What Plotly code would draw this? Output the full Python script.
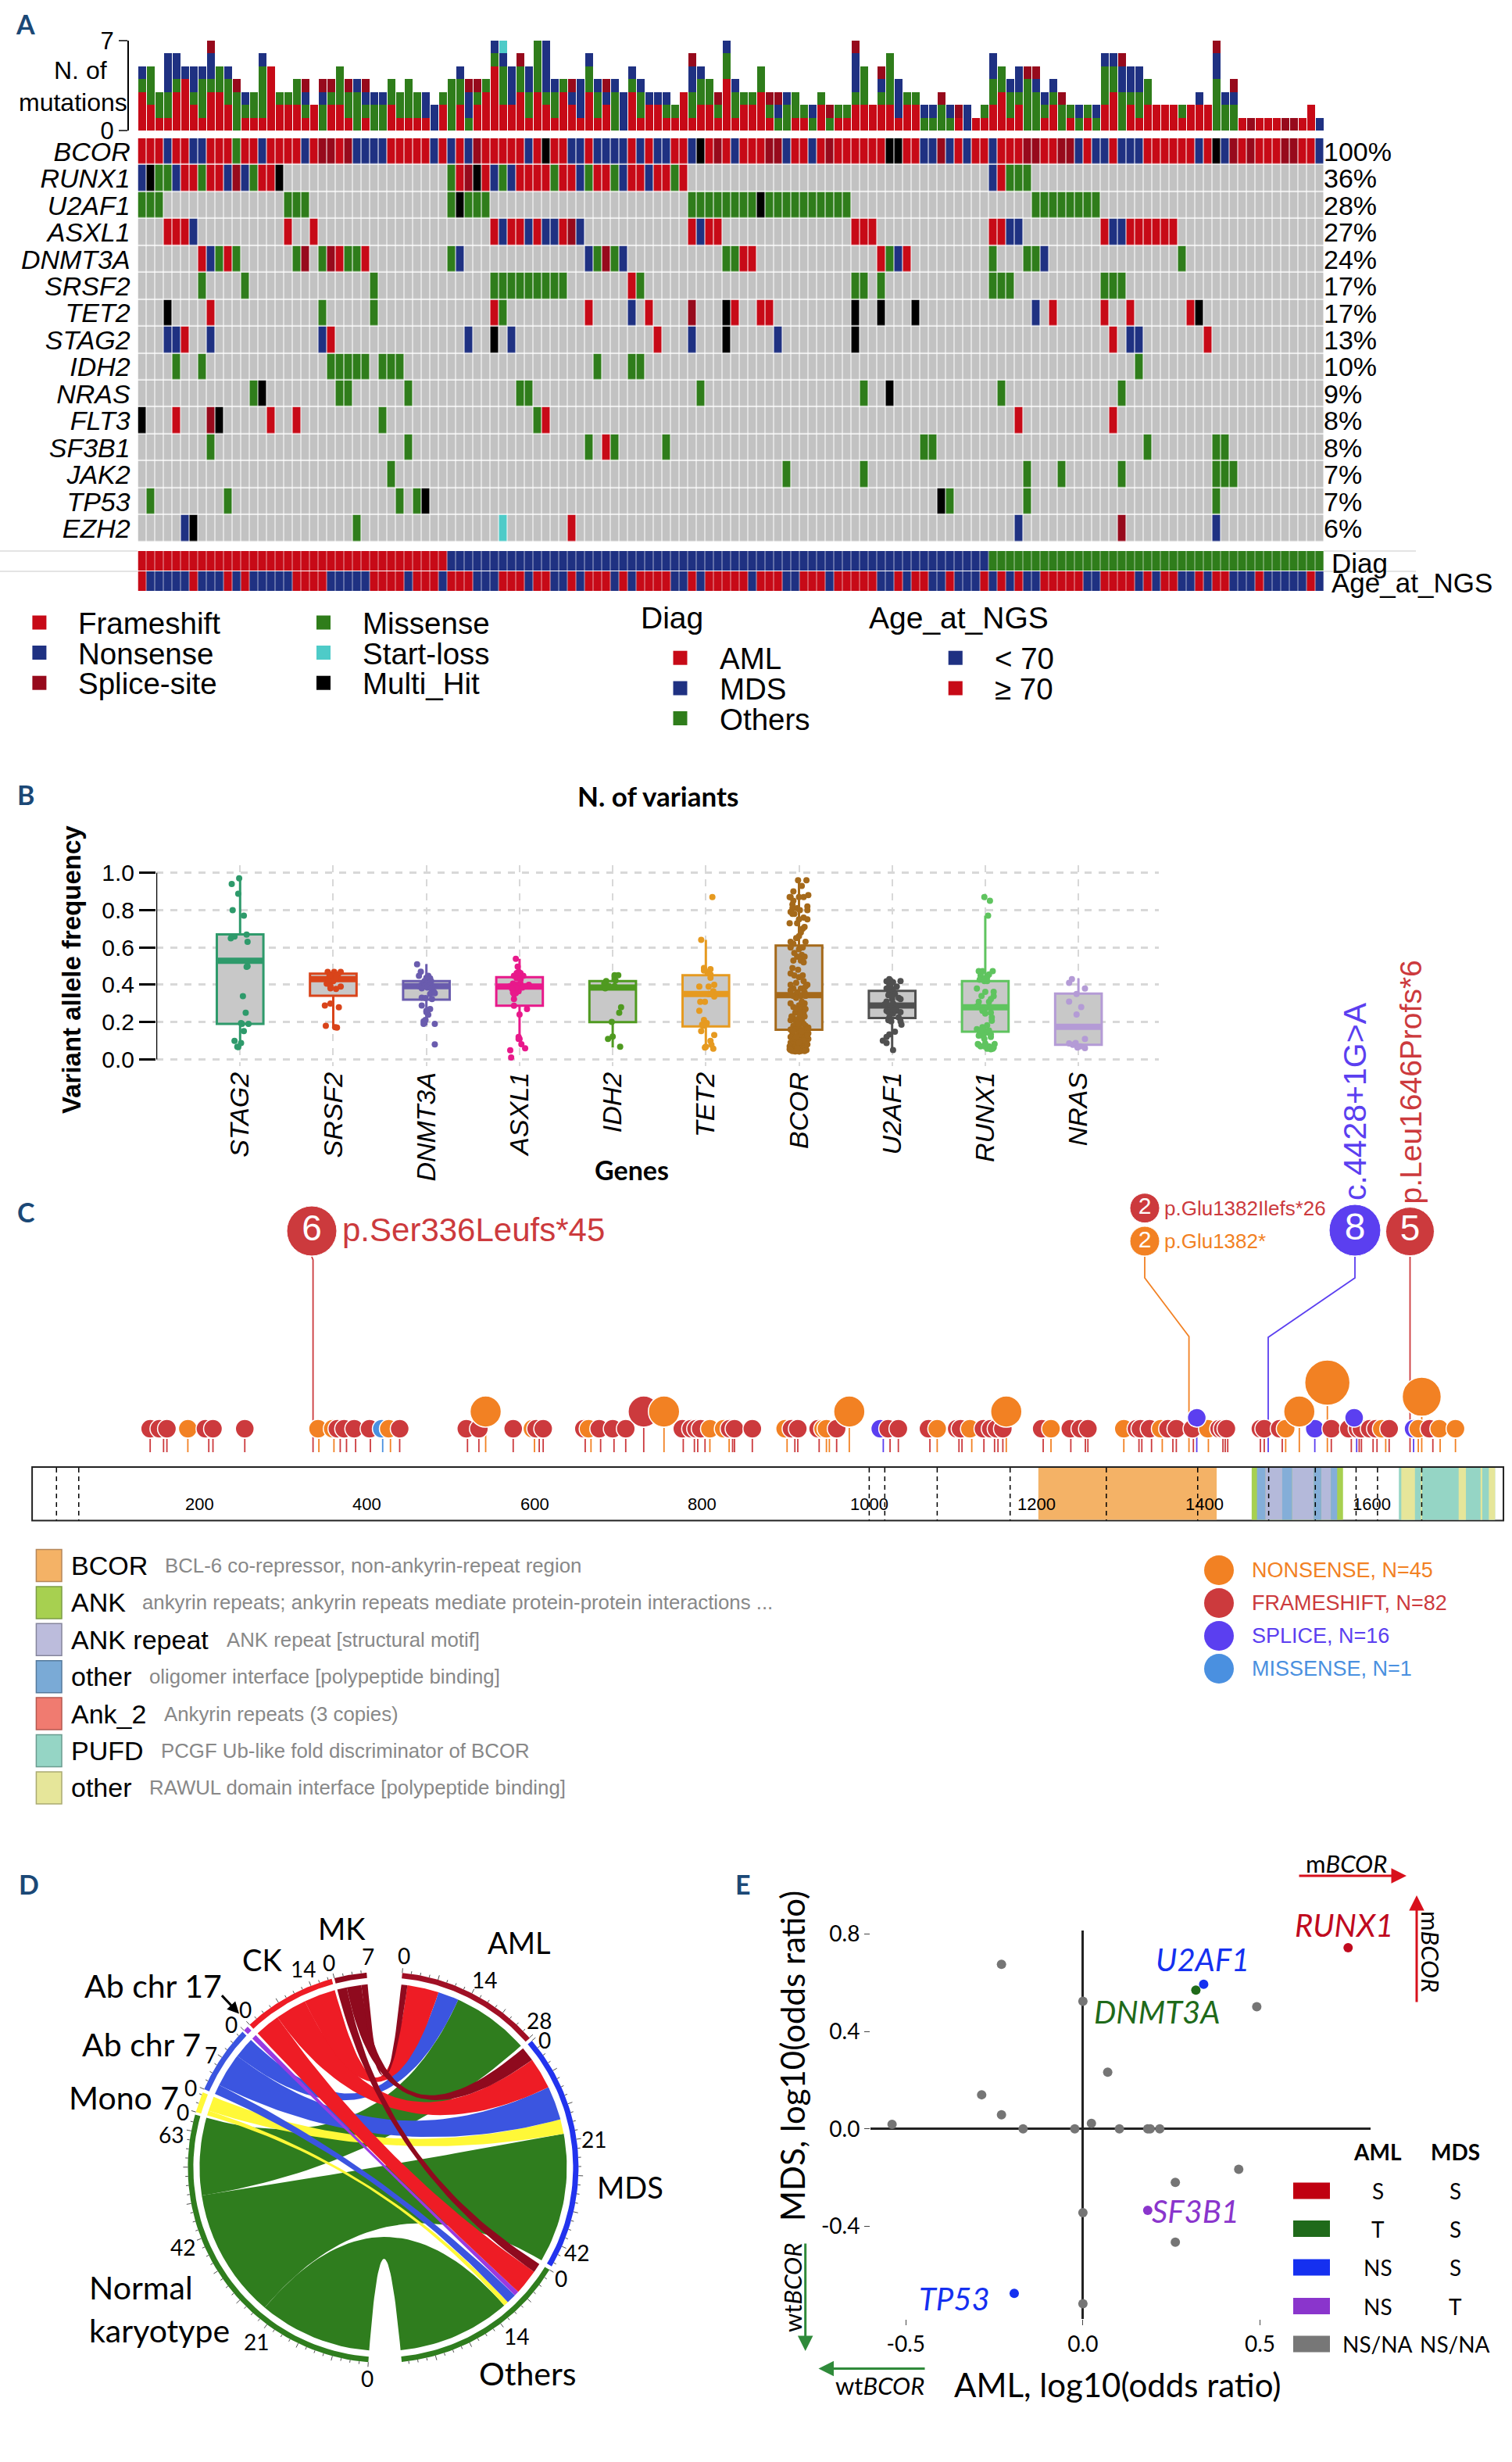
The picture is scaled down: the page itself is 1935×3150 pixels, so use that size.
import math
import plotly.graph_objects as go

W, H = 1935, 3150
ARIAL = "Liberation Sans"
LATO = "Lato"

# ---------- Panel A data ----------
N_PATIENTS = 138
ONCO_GENES = ["BCOR", "RUNX1", "U2AF1", "ASXL1", "DNMT3A", "SRSF2", "TET2", "STAG2",
              "IDH2", "NRAS", "FLT3", "SF3B1", "JAK2", "TP53", "EZH2"]
ONCO_PCT = ["100%", "36%", "28%", "27%", "24%", "17%", "17%", "13%", "10%", "9%", "8%", "8%", "7%", "7%", "6%"]

BCOR_N = [3,6,7,14,19,25,26,27,28,34,36,38,45,50,51,53,54,55,56,58,60,61,64,69,75,78,91,92,94,96,99,109,111,112,114,115,116,123,126,137]
BCOR_S = [21,22,24,39,67,73,74,80,93,103,104,107,108,127,129,133,134]
BCOR_M = [11]
BCOR_H = [47,65,87,88,125]

RUNX1 = {"N":[0,4,10,12,41,43,51,56,59,99], "H":[1,16,39], "M":[2,3,7,13,36,42,48,52,55,62,101,102,103],
         "F":[5,6,8,9,14,15,37,40,44,45,46,47,49,50,53,54,57,58,60,61,63,100], "S":[11,38]}
U2AF1 = {"M":[0,1,2,17,18,19,36,38,39,40,64,65,66,67,68,69,70,71,73,74,75,76,77,78,79,80,81,82,104,105,106,107,108,109,110,111], "H":[37,72]}
ASXL1 = {"F":[3,4,5,17,20,41,43,44,46,49,64,66,67,83,84,85,99,100,112,115,116,117,118,119,120],
         "N":[6,42,45,47,48,51,65,101,102,113,114], "S":[50]}
DNMT3A = {"F":[7,10,23,26,70,71,86,89], "N":[8,37,52,56,88,105], "M":[9,11,18,21,24,25,36,53,55,68,69,87,99,103,104,121], "S":[19,22,54]}
SRSF2 = {"M":[7,12,27,41,42,43,44,45,46,47,48,49,58,83,84,86,99,100,101,112,113,114], "F":[57]}
TET2 = {"H":[3,68,83,86,90,123], "F":[8,41,52,59,69,72,73,106,112,115,122], "M":[21,27,42], "N":[57,104], "S":[64]}
STAG2 = {"N":[3,4,8,21,38,43,64,74,115,116], "F":[5,22,60,113,124], "H":[41,68,83]}
IDH2 = {"M":[4,7,22,23,24,25,26,28,29,30,53,57,58,116]}
NRAS = {"M":[13,23,24,31,44,45,65,84,100,114], "H":[14,87]}
FLT3 = {"H":[0,9], "F":[4,15,18,47,102,113], "S":[8], "M":[28,46]}
SF3B1 = {"M":[8,31,52,55,61,91,92,117,125,126], "F":[54]}
JAK2 = {"M":[29,75,84,103,107,114,125,126,127]}
TP53 = {"M":[1,10,30,32,94,103,125], "H":[33,93]}
EZH2 = {"N":[5,102,125], "H":[6], "M":[25], "L":[42], "F":[50], "S":[114]}

MUT_F = [3,2,1,1,3,4,2,1,3,3, 2,0,1,1,1,5,2,2,2,1, 2,0,2,2,1,0,1,0,0,2, 1,1,1,1,0,2,0,2,0,2,
         3,5,2,2,3,1,3,2,1,3, 2,1,3,1,2,0,0,3,1,2, 2,1,1,3,1,2,2,1,4,1, 2,2,3,1,0,0,1,1,0,2,
         0,1,1,2,2,2,2,2,1,2, 2,0,0,0,0,1,0,1,1,2, 3,1,2,0,0,1,2,0,1,0, 1,0,2,3,0,2,1,2,2,2,
         2,1,2,2,2,0,0,0,1,0, 1,1,1,0,0,1,2,0]
MUT_M = [1,3,2,2,1,0,1,3,1,2, 2,3,1,2,4,0,1,1,2,1, 0,2,1,3,2,3,1,2,2,2, 2,3,2,0,0,1,4,2,1,1,
         1,1,3,0,2,2,4,1,2,1, 0,0,2,2,0,3,0,1,2,0, 0,1,1,0,2,2,2,1,2,2, 1,1,2,1,1,2,2,1,1,1,
         1,1,1,1,3,0,1,4,0,1, 1,1,1,2,1,0,0,0,1,2, 2,2,1,4,3,1,1,2,1,1, 1,1,3,2,3,1,2,2,0,0,
         0,1,0,0,0,4,2,2,0,0, 0,0,0,0,0,0,0,0]
MUT_N = [1,0,0,3,2,1,2,1,2,0, 1,0,1,0,1,0,0,0,0,1, 0,1,0,0,0,1,1,1,1,0, 0,0,0,2,2,0,0,1,2,0,
         0,1,1,3,0,2,0,4,1,0, 1,3,1,1,1,1,3,1,1,1, 1,1,0,0,2,1,0,0,1,1, 0,0,0,0,1,1,0,0,1,0,
         0,0,0,3,0,0,1,0,3,0, 0,1,1,0,1,0,2,0,0,2, 0,1,2,0,1,1,1,0,0,1, 0,1,1,1,2,2,2,0,0,0,
         0,0,0,1,0,2,1,1,0,0, 0,0,0,0,0,0,0,1]
MUT_S = [0,0,0,0,0,0,0,0,1,0, 0,1,0,0,0,0,0,0,0,1, 0,1,1,0,1,0,1,0,0,0, 0,0,0,0,0,0,0,0,1,1,
         0,0,0,0,1,0,0,0,0,0, 1,0,0,0,1,0,0,0,0,0, 0,0,0,0,1,0,0,1,0,0, 0,0,0,1,1,0,0,0,0,0,
         1,0,0,1,0,0,1,0,0,0, 0,0,0,1,0,1,0,0,0,0, 0,0,0,1,1,0,0,1,0,0, 0,0,0,0,1,0,0,0,0,0,
         0,0,0,0,0,1,0,1,0,1, 0,0,0,1,1,0,0,0]
MUT_L_COLS = [42]

DIAG_GROUPS = ["AML", "MDS", "Others"]
DIAG_SIZES = [36, 63, 39]
AGE_GE70_COLS = [0,6,10,12,18,19,20,21,27,28,29,30,32,33,34,36,37,38,42,43,44,46,47,50,52,53,54,56,58,59,60,61,64,
                 66,67,68,69,70,72,73,74,77,78,79,81,82,83,84,85,88,90,91,94,98,100,102,105,106,107,108,109,
                 112,113,114,115,117,119,120,123,125,126,130,136]

# ---------- Panel B data ----------
VAF_GENES = ["STAG2", "SRSF2", "DNMT3A", "ASXL1", "IDH2", "TET2", "BCOR", "U2AF1", "RUNX1", "NRAS"]
VAF_N = [21, 23, 33, 37, 14, 29, 144, 40, 53, 14]
VAF_Q1 = [.19, .341, .32, .288, .20, .177, .159, .222, .148, .078]
VAF_MED = [.529, .43, .392, .39, .385, .35, .344, .289, .279, .175]
VAF_Q3 = [.67, .459, .42, .44, .42, .451, .61, .367, .42, .353]
VAF_LO = [.066, .172, .183, .127, .064, .064, .043, .05, .064, .078]
VAF_HI = [.97, .469, .511, .539, .448, .641, .96, .434, .77, .434]

V_STAG2 = [.97,.94,.888,.80,.77,.669,.658,.649,.63,.499,.496,.339,.25,.19,.194,.19,.151,.099,.088,.068,.066]
J_STAG2 = [-.01,-.09,-.02,-.08,.04,.07,-.06,-.10,.08,.08,.07,.03,.06,.02,.01,.09,.04,-.06,.01,-.03,-.02]
V_SRSF2 = [.469,.469,.469,.455,.446,.427,.434,.406,.381,.378,.39,.448,.455,.289,.299,.279,.18,.172,.17,.42,.42,.392,.437]
J_SRSF2 = [-.06,.01,.08,-.03,.02,-.01,0,-.07,-.03,.03,.08,-.04,.05,-.09,-.03,.06,-.08,.02,.04,0,-.05,-.03,.03]
V_DNMT3A = [.51,.47,.448,.448,.437,.434,.42,.42,.406,.40,.40,.392,.392,.392,.385,.381,.381,.362,.35,.355,.331,.328,.323,.289,.27,.26,.239,.211,.204,.19,.19,.08,.253]
J_DNMT3A = [-.10,-.06,-.08,.02,0,.04,-.02,.05,.01,-.05,.04,-.02,.08,-.08,.01,-.05,.05,.08,.04,.09,-.05,-.01,.06,-.05,.04,0,.02,-.01,-.03,-.03,.09,.09,0]
V_ASXL1 = [.539,.497,.469,.448,.462,.448,.434,.446,.406,.40,.406,.40,.392,.39,.392,.392,.381,.358,.365,.355,.323,.288,.27,.24,.12,.11,.11,.081,.059,.049,.01,.385,.385,.378,.462,.427,.35]
J_ASXL1 = [-.04,-.02,-.01,-.06,.01,.04,-.03,-.01,-.07,-.03,.01,.10,-.10,-.06,0,.06,-.01,-.07,-.01,-.04,-.06,-.06,.08,0,-.01,0,-.01,.02,.06,-.10,-.09,-.04,.03,-.08,-.03,.01,-.06]
V_IDH2 = [.451,.451,.423,.42,.406,.381,.392,.392,.279,.25,.201,.122,.11,.068]
J_IDH2 = [.02,.06,.03,-.07,-.09,-.08,.02,-.04,.09,.07,-.01,0,-.05,.08]
V_TET2 = [.87,.641,.49,.483,.469,.455,.437,.40,.39,.39,.365,.35,.337,.309,.309,.26,.211,.194,.186,.151,.13,.099,.078,.068,.064,.057,.18,.35,.476]
J_TET2 = [.07,-.05,-.02,.05,.03,.05,.05,.09,-.07,.03,.08,.03,.09,-.06,-.01,-.07,-.02,.01,-.04,-.05,.09,.05,.06,0,-.01,.08,-.03,.06,-.02]
V_BCOR = [.96,.96,.93,.90,.87,.87,.87,.87,.88,.85,.83,.82,.81,.81,.80,.79,.78,.80,.78,.76,.75,.75,.73,.73,.71,.70,.68,.65,.63,.63,
          .62,.60,.60,.59,.56,.55,.55,.53,.53,.52,.49,.48,.46,.45,.45,.42,.40,.40,.38,.38,.36,.36,.34,.34,.33,.34,.30,.28,.30,.29,
          .28,.26,.27,.25,.25,.22,.22,.23,.21,.21,.20,.18,.18,.17,.17,.16,.16,.16,.16,.14,.14,.14,.14,.13,.13,.12,.12,.11,.11,.11,
          .10,.10,.09,.09,.085,.08,.08,.07,.07,.07,.07,.065,.065,.06,.06,.055,.055,.055,.055,.05,.05,.045,.045,.043,.043,.05,
          .66,.57,.44,.41,.39,.37,.31,.27,.24,.23,.19,.19,.15,.15,.13,.12,.10,.09,.08,.06,.06,.05,.05,.045]
J_BCOR = [-.01,.08,.03,-.06,-.09,-.10,0,.05,.10,-.06,-.07,.09,-.07,-.02,.09,-.09,-.05,.01,-.07,.05,.09,0,-.10,-.02,.06,.04,.02,-.03,-.09,.07,
          -.06,.04,-.09,0,.03,.06,-.02,-.06,.02,.05,-.07,-.01,-.09,-.05,.04,.05,.09,-.09,-.06,.02,-.02,.06,-.06,.02,-.03,.07,-.09,-.06,.06,0,
          .05,.02,.07,-.04,.05,-.06,0,.06,-.09,.03,-.03,-.06,.07,0,.10,-.09,.04,-.04,.09,-.07,0,.06,.10,-.06,.02,.07,-.09,-.02,.05,.10,
          -.06,.02,-.09,.07,-.02,.04,-.07,-.04,.01,-.10,.06,-.06,-.01,-.09,.03,-.04,0,-.10,.05,-.06,-.02,.02,-.07,-.04,0,.04,
          0,-.05,0,-.03,.07,-.09,.03,-.03,.01,-.08,.05,-.01,.03,-.06,.09,-.03,.05,0,.09,-.02,.07,.08,-.09,.06]
V_U2AF1 = [.43,.42,.418,.413,.40,.39,.38,.378,.365,.358,.35,.344,.33,.323,.323,.31,.30,.288,.288,.274,.26,.26,.253,.253,.246,.225,.225,.21,.204,.186,.204,.148,.134,.12,.10,.088,.05,.295,.267,.337]
J_U2AF1 = [-.03,.09,-.06,.01,-.03,.05,-.06,0,.01,-.03,.03,-.04,.07,.09,0,-.06,.01,-.03,.05,0,-.06,.05,.09,-.04,.01,-.03,.07,-.04,.09,.10,-.01,.03,-.03,-.06,-.10,-.06,.01,-.08,.03,0]
V_RUNX1 = [.87,.85,.77,.473,.473,.473,.448,.455,.44,.427,.42,.42,.38,.362,.362,.34,.339,.323,.309,.309,.283,.274,.26,.246,.25,.225,.207,.183,.172,.162,.155,.148,.144,.134,.127,.12,.127,.11,.082,.085,.082,.07,.07,.064,.057,.054,.078,.07,.057,.155,.155,.462,.434]
J_RUNX1 = [-.01,.05,.03,-.07,-.03,.08,-.05,.04,.02,-.06,-.01,.02,-.09,0,.09,-.04,.09,.06,-.07,.04,-.09,0,-.03,0,.06,.07,.07,.02,-.03,-.09,-.01,-.06,.02,.06,-.03,.06,-.07,-.01,-.08,0,.10,-.05,.04,.09,.02,.06,-.07,-.01,.08,-.05,.04,-.05,0]
V_NRAS = [.43,.41,.38,.35,.31,.28,.24,.11,.088,.078,.07,.06,.085,.064]
J_NRAS = [-.07,-.10,.07,-.02,-.10,.03,-.02,.07,-.03,-.06,.02,.07,-.10,-.01]

# ---------- Panel C data ----------
LOLLI_POS = [141,157,161,186,211,216,254,342.5,360.5,368,375.5,386.4,404,418.7,428,439,520,533.6,541.7,574.6,
             600,605.7,610.4,660.6,667.5,679,695,709,730.5,754.7,777.7,791,795,803.7,809.5,832.5,836.6,838.9,860.2,
             901.7,911,914.5,940,948.7,952.2,960.9,976,1016.6,1024.7,1034.6,1072.3,1081,1107,1110.6,1122.3,1136.8,
             1149.5,1153.6,1159.4,1163.5,1207.6,1216.9,1240.6,1258,1261,1303.9,1322,1325.4,1337,1349.8,1362.5,1366.6,
             1387,1391,1404.9,1422.3,1425,1428,1467,1471.6,1493.1,1497.2,1513.5,1532,1547,1551.7,1575.6,1582,1585,
             1587.7,1601.6,1606.3,1616.7,1620.8,1650,1655.6,1659.7,1673,1681.7,1700]
LOLLI_HEAD = [141,152,161,186,207,216,254,341.5,359,364.6,372.6,384.7,403,417.6,426,439,518.6,533.6,541.7,574.6,
              597.6,602,610.4,659,664.6,677.3,693.4,709,730.5,754.7,776.6,787,793,798.5,809.5,826,833,838.9,860.2,
              899.4,907,914.5,938.8,944.7,948.7,960.9,976,1013,1022.4,1034.6,1070.6,1081,1104.3,1108.9,1120,1136.2,
              1144.9,1151.9,1159.4,1163.5,1205.8,1216.9,1240,1252,1261,1303.9,1319,1323.7,1334.7,1348,1356.7,1366.6,
              1385.8,1391,1404.3,1417.7,1422,1426.4,1467,1471.6,1490,1497.2,1513.5,1532,1547,1551.7,1572.6,1579,1583,
              1587.7,1597.6,1605,1612,1620.8,1650,1655.6,1659.7,1669,1680.6,1700]
LOLLI_TYPE = list("FFFNFFFNNFFFFMNFFFNFNFFFNFFFFNFFFFNNFFFNFFFNNFNSFFFNFFNFFFFNFNFFFNFFFNFFFSNFFFFFFNNSNFFSFFFFNFSNNFNN")
LOLLI_COUNT = [1,1,1,1,1,1,1,1,1,1,1,1,1,1,1,1,1,1,2,1,
               1,1,1,1,1,1,1,1,2,2,1,1,1,1,1,1,1,1,1,
               1,1,1,1,1,1,1,2,1,1,1,1,1,1,1,1,1,
               1,1,1,2,1,1,1,1,1,1,1,1,1,1,1,1,
               1,1.5,1,1,1,1,1,1,1,1,2,1,4,1,1,1.5,1,
               1,1,1,1,1,1,1,3,1,1,1]
EXON_LINES = [29.1,55.7,999.8,1018.4,1081,1168.1,1283,1392.1,1476.9,1532.6,1581.3,1606.9,1659.7]
DOMAIN_BCOR = [1201.8, 1414.8]
DOMAIN_ANK = [1456.6, 1565.7]
DOMAIN_ANK_REPEAT = [[1472.8,1493.1],[1504.7,1530.8],[1539.6,1551.2]]
DOMAIN_OLIGOMER = [[1462.9,1472.8],[1493.1,1504.7],[1530.8,1539.6],[1551.2,1558.7]]
DOMAIN_PUFD = [1632.4, 1747.3]
DOMAIN_RAWUL = [[1635.3,1651.6],[1658.5,1660],[1703.8,1712.5],[1730,1732],[1739.8,1747.3]]
AA_TICKS = [200,400,600,800,1000,1200,1400,1600]

# ---------- Panel D data ----------
CHORD_SECTORS = ["AML","MDS","Others","Normal karyotype","Mono 7","Ab chr 7","Ab chr 17","CK","MK"]
LINK_SOURCE = ["Normal karyotype"]*3 + ["Mono 7"]*2 + ["Ab chr 7"]*3 + ["Ab chr 17"] + ["CK"]*3 + ["MK"]*3
LINK_TARGET = ["Others","MDS","AML","Others","MDS","Others","MDS","AML","Others","Others","MDS","AML","Others","MDS","AML"]
LINK_VALUE = [23.4,26.8,16, 1,3, 2,7,4.3, 1, 5.2,6.5,6.5, 2,3,1.3]

# ---------- Panel E data ----------
OR_GREY_X = [-.23,0,.491,.07,-.286,-.23,-.539,-.169,-.023,.024,.103,.183,.19,.217,.44,.261,0,.261,0]
OR_GREY_Y = [.676,.524,.502,.233,.14,.058,.018,0,0,.022,0,0,0,0,-.166,-.22,-.345,-.466,-.719]
OR_GENES = ["RUNX1","U2AF1","DNMT3A","SF3B1","TP53"]
OR_X = [.749,.341,.319,.183,-.194]
OR_Y = [.744,.594,.57,-.335,-.676]

# ---------- styles ----------
C_F, C_N, C_S, C_M, C_L, C_H = "#c70a17", "#1f3182", "#970a1c", "#2f7d1b", "#4ecbc8", "#000000"
C_GREY = "#c2c2c2"
PANEL = "#1b4876"

def dom_x(a, b): return [a / W, b / W]
def dom_y(t, b): return [1 - b / H, 1 - t / H]

fig = go.Figure()
ann, shp = [], []

def T(x, y, s, size, color="black", fam=ARIAL, xa="center", ya="middle", angle=0, xref="x9", yref="y9"):
    ann.append(dict(x=x, y=y, xref=xref, yref=yref, text=s, showarrow=False, xanchor=xa, yanchor=ya,
                    textangle=angle, font=dict(size=size, color=color, family=fam)))

def rect(x0, x1, y0, y1, fill, line=None, lw=0, xref="x9", yref="y9", layer="above"):
    shp.append(dict(type="rect", xref=xref, yref=yref, x0=x0, x1=x1, y0=y0, y1=y1, fillcolor=fill, layer=layer,
                    line=dict(color=line or fill, width=lw)))

def arrow(x, y, ax, ay, color, w=3, size=1.3):
    ann.append(dict(x=x, y=y, ax=ax, ay=ay, xref="x9", yref="y9", axref="x9", ayref="y9", text="", showarrow=True,
                    arrowhead=2, arrowsize=size, arrowwidth=w, arrowcolor=color))

for lab, x, y in [("A", 32, 30), ("B", 33, 1016), ("C", 33, 1550), ("D", 37, 2410), ("E", 951, 2410)]:
    T(x, y, "<b>%s</b>" % lab, 34, PANEL, LATO)

# ---------- Panel A ----------
cols = list(range(N_PATIENTS))
for vals, col in [(MUT_F, C_F), (MUT_M, C_M), (MUT_N, C_N), (MUT_S, C_S),
                  ([1 if c in MUT_L_COLS else 0 for c in cols], C_L)]:
    fig.add_trace(go.Bar(x=cols, y=vals, marker=dict(color=col, line=dict(width=0)), xaxis="x", yaxis="y",
                         hoverinfo="skip", showlegend=False))

CODE = {"F": 1, "N": 2, "S": 3, "M": 4, "L": 5, "H": 6}
SCALE = []
for i, c in enumerate([C_GREY, C_F, C_N, C_S, C_M, C_L, C_H]):
    SCALE += [[i / 7, c], [(i + 1) / 7, c]]

def row_from(d, default=0):
    r = [default] * N_PATIENTS
    for k, v in d.items():
        for c in v:
            r[c] = CODE[k]
    return r

matrix = [row_from({"N": BCOR_N, "S": BCOR_S, "M": BCOR_M, "H": BCOR_H}, default=1)]
for d in [RUNX1, U2AF1, ASXL1, DNMT3A, SRSF2, TET2, STAG2, IDH2, NRAS, FLT3, SF3B1, JAK2, TP53, EZH2]:
    matrix.append(row_from(d))
fig.add_trace(go.Heatmap(z=matrix, x=cols, y=list(range(15)), colorscale=SCALE, zmin=-.5, zmax=6.5, showscale=False,
                         xgap=1, ygap=1.5, hoverinfo="skip", xaxis="x2", yaxis="y2"))

diag_row = []
for g, n in zip(DIAG_GROUPS, DIAG_SIZES):
    diag_row += [{"AML": 1, "MDS": 2, "Others": 4}[g]] * n
age_row = [1 if c in AGE_GE70_COLS else 2 for c in cols]
fig.add_trace(go.Heatmap(z=[diag_row, age_row], x=cols, y=[0, 1], colorscale=SCALE, zmin=-.5, zmax=6.5, showscale=False,
                         xgap=.6, ygap=1, hoverinfo="skip", xaxis="x3", yaxis="y3"))

for i, p in enumerate(ONCO_PCT):
    T(137.3, i, p, 34, xa="left", xref="x2", yref="y2")

T(103, 90, "N. of", 32)
T(93, 131, "mutations", 32)
T(1702, 720, "Diag", 35, xa="left")
T(1702, 745, "Age_at_NGS", 35, xa="left")
for y in (705, 731):
    shp.append(dict(type="line", xref="x9", yref="y9", x0=0, x1=176, y0=y, y1=y, line=dict(color="#e4e4e4", width=2)))
    shp.append(dict(type="line", xref="x9", yref="y9", x0=1694, x1=1812, y0=y, y1=y, line=dict(color="#e4e4e4", width=2)))

for (sx, tx, labs) in [(41.4, 98, [("Frameshift", C_F), ("Nonsense", C_N), ("Splice-site", C_S)]),
                       (405, 462, [("Missense", C_M), ("Start-loss", C_L), ("Multi_Hit", C_H)])]:
    for (name, c), y in zip(labs, [796.5, 835, 873.7]):
        rect(sx, sx + 18, y - 9, y + 9, c)
        T(tx, y + 1, name, 38.5, xa="left")
T(818, 790, "Diag", 39, xa="left")
for (name, c), y in zip([("AML", C_F), ("MDS", C_N), ("Others", C_M)], [841.7, 880.5, 919]):
    rect(861.5, 879.5, y - 9, y + 9, c)
    T(919, y + 1, name, 38.5, xa="left")
T(1110, 790, "Age_at_NGS", 39, xa="left")
for (name, c), y in zip([("< 70", C_N), ("≥ 70", C_F)], [841.7, 880.5]):
    rect(1213.7, 1231.8, y - 9, y + 9, c)
    T(1271, y + 1, name, 38.5, xa="left")

# ---------- Panel B ----------
VAF_COL = ["#2e9a6b", "#d9441a", "#6a5cae", "#e8198b", "#4f9a20", "#e69a20", "#a5691a", "#505050", "#5fc45f", "#b49bd6"]
V_ALL = [V_STAG2, V_SRSF2, V_DNMT3A, V_ASXL1, V_IDH2, V_TET2, V_BCOR, V_U2AF1, V_RUNX1, V_NRAS]
J_ALL = [J_STAG2, J_SRSF2, J_DNMT3A, J_ASXL1, J_IDH2, J_TET2, J_BCOR, J_U2AF1, J_RUNX1, J_NRAS]
fig.add_trace(go.Scatter(x=[-.9, -.9], y=[0, 1], mode="lines", line=dict(color="black", width=2.5), xaxis="x5", yaxis="y5",
                         cliponaxis=False, hoverinfo="skip", showlegend=False))
for i, g in enumerate(VAF_GENES):
    fig.add_trace(go.Box(x=[i], q1=[VAF_Q1[i]], median=[VAF_MED[i]], q3=[VAF_Q3[i]], lowerfence=[VAF_LO[i]],
                         upperfence=[VAF_HI[i]], width=.5, whiskerwidth=0, fillcolor="#c8c8c8", orientation="v",
                         line=dict(color=VAF_COL[i], width=3), boxpoints=False, xaxis="x5", yaxis="y5",
                         hoverinfo="skip", showlegend=False))
    fig.add_trace(go.Scatter(x=[i - .25, i + .25], y=[VAF_MED[i]] * 2, mode="lines",
                             line=dict(color=VAF_COL[i], width=8), xaxis="x5", yaxis="y5", hoverinfo="skip", showlegend=False))
    fig.add_trace(go.Scatter(x=[i + j for j in J_ALL[i][:len(V_ALL[i])]], y=V_ALL[i][:len(J_ALL[i])], mode="markers",
                             marker=dict(color=VAF_COL[i], size=8), xaxis="x5", yaxis="y5",
                             hoverinfo="skip", showlegend=False))
    T(i, 1.118, str(VAF_N[i]), 31, xref="x5", yref="y5")
T(842, 1018, "<b>N. of variants</b>", 35, fam=LATO)
T(808, 1496, "<b>Genes</b>", 34, fam=LATO)
T(91, 1241, "<b>Variant allele frequency</b>", 33, angle=-90)

# ---------- Panel C ----------
RED, ORG, PUR, BLU = "#cc3a3d", "#f28123", "#5b3ff0", "#4a90e0"
TCOL = {"F": RED, "N": ORG, "S": PUR, "M": BLU}
HEAD = {1: (24, 1828), 1.5: (24, 1814), 2: (40, 1806), 3: (50, 1787), 4: (58, 1769)}

def aa_px(px): return (px - 41.1) / 1.0715

rect(0, 1757.3, 1877, 1945.5, "white", "#222222", 2, xref="x4", yref="y9", layer="below")
rect(DOMAIN_BCOR[0], DOMAIN_BCOR[1], 1878, 1944.5, "#f4b266", xref="x4", layer="below")
rect(DOMAIN_ANK[0], DOMAIN_ANK[1], 1878, 1944.5, "#a7d050", xref="x4", layer="below")
for a, b in DOMAIN_ANK_REPEAT:
    rect(a, b, 1878, 1944.5, "#b4b9da", xref="x4", layer="below")
for a, b in DOMAIN_OLIGOMER:
    rect(a, b, 1878, 1944.5, "#84aed8", xref="x4", layer="below")
rect(DOMAIN_PUFD[0], DOMAIN_PUFD[1], 1878, 1944.5, "#95d5c5", xref="x4", layer="below")
for a, b in DOMAIN_RAWUL:
    rect(a, b, 1878, 1944.5, "#e6e69a", xref="x4", layer="below")
ex, ey = [], []
for p in EXON_LINES:
    ex += [p, p, None]
    ey += [1878, 1945, None]
fig.add_trace(go.Scatter(x=ex, y=ey, mode="lines", line=dict(color="black", width=1.5, dash="6px,5px"),
                         xaxis="x4", yaxis="y9", hoverinfo="skip", showlegend=False))
for t in AA_TICKS:
    T(t, 1924, str(t), 22, xref="x4")

# long label stems
for col, xs, ys in [(RED, [aa_px(399), aa_px(400.6), aa_px(400.6)], [1608, 1612, 1858]),
                    (ORG, [aa_px(1465), aa_px(1465), aa_px(1521.6), aa_px(1521.6)], [1608, 1635, 1710, 1858]),
                    (PUR, [aa_px(1734), aa_px(1734), aa_px(1623), aa_px(1623)], [1608, 1635, 1711, 1858]),
                    (RED, [aa_px(1804.5), aa_px(1804.5)], [1608, 1858])]:
    fig.add_trace(go.Scatter(x=xs, y=ys, mode="lines", line=dict(color=col, width=1.8), xaxis="x4", yaxis="y9",
                             hoverinfo="skip", showlegend=False))
for k, col in TCOL.items():
    sx, sy = [], []
    for p, t, n in zip(LOLLI_POS, LOLLI_TYPE, LOLLI_COUNT):
        if t == k:
            d, yc = HEAD[n]
            sx += [p, p, None]
            sy += [yc + d / 2 + 1, 1858, None]
    fig.add_trace(go.Scatter(x=sx, y=sy, mode="lines", line=dict(color=col, width=1.8), xaxis="x4", yaxis="y9",
                             hoverinfo="skip", showlegend=False))
order = sorted(range(len(LOLLI_HEAD)), key=lambda i: LOLLI_COUNT[i])
fig.add_trace(go.Scatter(x=[LOLLI_HEAD[i] for i in order], y=[HEAD[LOLLI_COUNT[i]][1] for i in order], mode="markers",
                         marker=dict(size=[HEAD[LOLLI_COUNT[i]][0] for i in order], opacity=1,
                                     color=[TCOL[LOLLI_TYPE[i]] for i in order], line=dict(color="white", width=1.5)),
                         xaxis="x4", yaxis="y9", hoverinfo="skip", showlegend=False))
# labelled hot spots
fig.add_trace(go.Scatter(x=[aa_px(v) for v in (399, 1465, 1465, 1734, 1804.5)], y=[1575, 1545.7, 1588, 1574, 1575.6],
                         mode="markers+text", text=["6", "2", "2", "8", "5"], textposition="middle center",
                         textfont=dict(color="white", size=[46, 30, 30, 48, 46], family=ARIAL),
                         marker=dict(size=[64, 38, 38, 66, 62], opacity=1, color=[RED, RED, ORG, PUR, RED]),
                         xaxis="x4", yaxis="y9", hoverinfo="skip", showlegend=False))
T(436, 1573, "p.Ser336Leufs*45", 42, RED, xa="left")
T(1488, 1545.5, "p.Glu1382Ilefs*26", 26, RED, xa="left")
T(1488, 1587.5, "p.Glu1382*", 26, ORG, xa="left")
T(1734, 1409, "c.4428+1G&gt;A", 41, PUR, angle=-90)
T(1804.5, 1385, "p.Leu1646Profs*6", 39, RED, angle=-90)

DOM_LEG = [("BCOR", "BCL-6 co-repressor, non-ankyrin-repeat region", "#f4b266", "#b5875a", 209),
           ("ANK", "ankyrin repeats; ankyrin repeats mediate protein-protein interactions ...", "#a7d050", "#7c9c46", 180),
           ("ANK repeat", "ANK repeat [structural motif]", "#bcbcdc", "#85859c", 288),
           ("other", "oligomer interface [polypeptide binding]", "#7aaad6", "#557a9c", 189),
           ("Ank_2", "Ankyrin repeats (3 copies)", "#f07b70", "#b5584f", 208),
           ("PUFD", "PCGF Ub-like fold discriminator of BCOR", "#95d5c5", "#6b9c90", 204),
           ("other", "RAWUL domain interface [polypeptide binding]", "#e6e69a", "#aaaa72", 189)]
for i, (a, b, c, l, x) in enumerate(DOM_LEG):
    y = 2003 + 47.4 * i
    rect(46.4, 79, y - 20.5, y + 20.5, c, l, 1.5)
    T(89, y, a, 34, xa="left")
    T(x, y, b, 25.8, "#888888", xa="left")

MUT_LEG = [("NONSENSE, N=45", ORG), ("FRAMESHIFT, N=82", RED), ("SPLICE, N=16", PUR), ("MISSENSE, N=1", BLU)]
LEG_Y = [2009, 2051, 2093, 2135]
fig.add_trace(go.Scatter(x=[1560] * 4, y=LEG_Y, mode="markers",
                         marker=dict(size=38, color=[c for _, c in MUT_LEG]), xaxis="x9", yaxis="y9",
                         hoverinfo="skip", showlegend=False))
for (s, c), y in zip(MUT_LEG, LEG_Y):
    T(1600, y, s, 27, c, xa="left")

# ---------- Panel D ----------
CX, CY = 490.4, 2773
U = 1.53
R_CH, R_IN, R_OUT = 235, 243, 250
GAP_AFTER = {"AML": 1, "MDS": 1.2, "Others": 9.8, "Normal karyotype": .8, "Mono 7": 1, "Ab chr 7": .6,
             "Ab chr 17": .8, "CK": .8, "MK": 9.8}
SEC_COL = {"AML": "#a01025", "MDS": "#2233ee", "Others": "#2f7d1e", "Normal karyotype": "#2f7d1e", "Mono 7": "#fff838",
           "Ab chr 7": "#3b55e0", "Ab chr 17": "#9a3ae0", "CK": "#ee1c25", "MK": "#8f0a1e"}

def pol(deg, r):
    t = math.radians(deg)
    return CX + r * math.sin(t), CY - r * math.cos(t)

sec_size = {s: 0 for s in CHORD_SECTORS}
for s, t, v in zip(LINK_SOURCE, LINK_TARGET, LINK_VALUE):
    sec_size[s] += v
    sec_size[t] += v
sec_start, a = {}, 5.6
for s in CHORD_SECTORS:
    sec_start[s] = a
    a += sec_size[s] * U + GAP_AFTER[s]

def arc(a0, a1, r, n=24):
    return [pol(a0 + (a1 - a0) * i / n, r) for i in range(n + 1)]

for s in CHORD_SECTORS:
    a0, a1 = sec_start[s], sec_start[s] + sec_size[s] * U
    pts = arc(a0, a1, R_OUT, 48) + arc(a1, a0, R_IN, 48)
    fig.add_trace(go.Scatter(x=[p[0] for p in pts], y=[p[1] for p in pts], fill="toself", mode="lines",
                             line=dict(width=0, color=SEC_COL[s]), fillcolor=SEC_COL[s], xaxis="x9", yaxis="y9",
                             hoverinfo="skip", showlegend=False))
    tx, ty = [], []
    n = int(sec_size[s] / 1.75) + 1
    for k in range(n):
        val = k * 1.75
        d = a0 + val * U
        ln = 6 if k % 4 == 0 else 3.5
        p0, p1 = pol(d, R_OUT), pol(d, R_OUT + ln)
        tx += [p0[0], p1[0], None]
        ty += [p0[1], p1[1], None]
    fig.add_trace(go.Scatter(x=tx, y=ty, mode="lines", line=dict(color="#222222", width=.8), xaxis="x9", yaxis="y9",
                             hoverinfo="skip", showlegend=False))

cursor = dict(sec_start)
SRC_ORDER = ["Normal karyotype", "Mono 7", "Ab chr 7", "Ab chr 17", "CK", "MK"]
TGT_SRC_ORDER = ["MK", "CK", "Ab chr 17", "Ab chr 7", "Mono 7", "Normal karyotype"]
pos_src, pos_tgt = {}, {}
for s in SRC_ORDER:
    for t in ["Others", "MDS", "AML"]:
        for i, (ls, lt) in enumerate(zip(LINK_SOURCE, LINK_TARGET)):
            if ls == s and lt == t:
                pos_src[i] = (cursor[s], cursor[s] + LINK_VALUE[i] * U)
                cursor[s] += LINK_VALUE[i] * U
for t in ["AML", "MDS", "Others"]:
    for s in TGT_SRC_ORDER:
        for i, (ls, lt) in enumerate(zip(LINK_SOURCE, LINK_TARGET)):
            if ls == s and lt == t:
                pos_tgt[i] = (cursor[t], cursor[t] + LINK_VALUE[i] * U)
                cursor[t] += LINK_VALUE[i] * U

def bez(p, q, n=40):
    out = []
    for i in range(1, n):
        u = i / n
        out.append(((1 - u) ** 2 * p[0] + 2 * u * (1 - u) * CX + u * u * q[0],
                    (1 - u) ** 2 * p[1] + 2 * u * (1 - u) * CY + u * u * q[1]))
    return out

for s in SRC_ORDER:
    for i, ls in enumerate(LINK_SOURCE):
        if ls != s:
            continue
        a0, a1 = pos_src[i]
        b0, b1 = pos_tgt[i]
        pts = arc(a0, a1, R_CH, 12) + bez(pol(a1, R_CH), pol(b0, R_CH)) + arc(b0, b1, R_CH, 24) + bez(pol(b1, R_CH), pol(a0, R_CH))
        fig.add_trace(go.Scatter(x=[p[0] for p in pts], y=[p[1] for p in pts], fill="toself", mode="lines",
                                 line=dict(width=0, color=SEC_COL[s]), fillcolor=SEC_COL[s], xaxis="x9", yaxis="y9",
                                 hoverinfo="skip", showlegend=False))

for s, x, y in [("MK", 437.7, 2467), ("AML", 664, 2485), ("CK", 335.7, 2507), ("MDS", 806, 2798)]:
    T(x, y, s, 38, fam=LATO)
for s, x, y in [("Ab chr 17", 196, 2540), ("Ab chr 7", 181, 2615), ("Mono 7", 158, 2683), ("Others", 675, 3036.5)]:
    T(x, y, s, 41, fam=LATO)
T(112, 2926, "Normal", 41, fam=LATO, xa="left")
T(112, 2981, "karyotype", 41, fam=LATO, xa="left")
for s, x, y in [("14",388,2519),("0",421,2511),("7",470.6,2503),("0",517,2502),("14",620,2533),("28",690,2585),
                ("0",697,2610),("21",760,2737),("42",738,2882),("0",717.5,2915),("14",661,2989),("0",469.6,3042.5),
                ("21",327.5,2996),("42",234,2875),("63",219,2731),("0",234,2702),("0",244,2671),("7",270,2629),
                ("0",296,2590),("0",314,2571)]:
    T(x, y, s, 28, fam=LATO)
arrow(306, 2576.5, 282.5, 2551.6, "black", 3, 1)

# ---------- Panel E ----------
C_E = {"RUNX1": "#c00a1e", "U2AF1": "#1530f0", "DNMT3A": "#1f6a1a", "SF3B1": "#8a35cc", "TP53": "#1530f0"}
fig.add_trace(go.Scatter(x=OR_GREY_X, y=OR_GREY_Y, mode="markers", marker=dict(size=12, color="#757575"),
                         xaxis="x6", yaxis="y6", cliponaxis=False, hoverinfo="skip", showlegend=False))
fig.add_trace(go.Scatter(x=OR_X, y=OR_Y, mode="markers", marker=dict(size=12, color=[C_E[g] for g in OR_GENES]),
                         xaxis="x6", yaxis="y6", cliponaxis=False, hoverinfo="skip", showlegend=False))
for g, x, y in [("RUNX1", 1720.6, 2463), ("U2AF1", 1539, 2507), ("DNMT3A", 1480.5, 2574), ("SF3B1", 1530, 2829), ("TP53", 1221.6, 2941)]:
    T(x, y, "<i>%s</i>" % g, 40, C_E[g], LATO)
T(1014, 2631, "MDS, log10(odds ratio)", 42, fam=LATO, angle=-90)
T(1430, 3050.5, "AML, log10(odds ratio)", 42, fam=LATO)
T(1763, 2753, "<b>AML</b>", 28, fam=LATO)
T(1862, 2753, "<b>MDS</b>", 28, fam=LATO)
E_LEG = [("#c00010", "S", "S"), ("#1f6a1a", "T", "S"), ("#1530f0", "NS", "S"), ("#8a35cc", "NS", "T"), ("#777777", "NS/NA", "NS/NA")]
for (c, a, b), y in zip(E_LEG, [2803, 2851.5, 2901, 2950.5, 2999]):
    rect(1655, 1702, y - 10.5, y + 10.5, c)
    T(1763, y, a, 28, fam=LATO)
    T(1862, y, b, 28, fam=LATO)
arrow(1800, 2400, 1661, 2400, "#d8101c")
T(1722.6, 2384, "m<i>BCOR</i>", 31, fam=LATO)
arrow(1813, 2425, 1813, 2563, "#d8101c")
T(1831, 2497, "m<i>BCOR</i>", 31, fam=LATO, angle=90)
arrow(1030.7, 3008, 1030.7, 2869, "#2f8a3a")
T(1014, 2927, "wt<i>BCOR</i>", 31, fam=LATO, angle=-90)
arrow(1047.5, 3030.6, 1185, 3030.6, "#2f8a3a")
T(1126, 3051.5, "wt<i>BCOR</i>", 31, fam=LATO)

# ---------- layout ----------
NB = "\u00a0"
hidden = dict(visible=False, fixedrange=True, automargin=False)
fig.update_layout(
    template="none",
    width=W, height=H, margin=dict(l=0, r=0, t=0, b=0, pad=0), autosize=False,
    paper_bgcolor="white", plot_bgcolor="rgba(0,0,0,0)", barmode="stack", bargap=.09, boxmode="overlay",
    showlegend=False, annotations=ann, shapes=shp,
    font=dict(family=ARIAL, color="black"),
    xaxis=dict(domain=dom_x(176.5, 1694), range=[-.5, 137.5], anchor="y", **hidden),
    yaxis=dict(domain=dom_y(52, 167), range=[0, 7], anchor="free", position=164 / W, tickvals=[0, 7],
               ticktext=["0", "7"], ticks="outside", ticklen=11, tickwidth=2, showline=True, linewidth=2, linecolor="black",
               showgrid=False, zeroline=False, tickfont=dict(size=31), ticksuffix=NB + NB + NB, fixedrange=True, automargin=False),
    xaxis2=dict(domain=dom_x(176.5, 1694), range=[-.5, 137.5], anchor="y2", **hidden),
    yaxis2=dict(domain=dom_y(176.7, 693.3), range=[14.5, -.5], anchor="x2", tickvals=list(range(15)),
                ticktext=["<i>%s</i>" % g for g in ONCO_GENES], tickfont=dict(size=34), ticks="outside", ticklen=2,
                tickcolor="rgba(0,0,0,0)", showgrid=False, zeroline=False, showline=False, fixedrange=True, automargin=False),
    xaxis3=dict(domain=dom_x(176.5, 1694), range=[-.5, 137.5], anchor="y3", **hidden),
    yaxis3=dict(domain=dom_y(705, 757.3), range=[1.5, -.5], anchor="x3", **hidden),
    xaxis4=dict(domain=[0, 1], range=[aa_px(0), aa_px(W)], anchor="y9", **hidden),
    xaxis5=dict(domain=dom_x(200, 1483), range=[-.9, 9.863], anchor="y5", tickvals=list(range(10)),
                ticktext=["<i>%s</i>" % g for g in VAF_GENES], tickangle=-90, tickfont=dict(size=34), ticks="",
                showgrid=True, gridcolor="#d8d8d8", gridwidth=1.5, griddash="dash", zeroline=False, showline=False,
                fixedrange=True, automargin=False),
    yaxis5=dict(domain=dom_y(1107, 1364), range=[-.036, 1.0406], anchor="x5", tickvals=[0, .2, .4, .6, .8, 1],
                ticktext=["0.0", "0.2", "0.4", "0.6", "0.8", "1.0"], ticksuffix=NB * 4, tickfont=dict(size=30), ticks="outside",
                ticklen=21, tickwidth=3, tickcolor="black", showgrid=True, gridcolor="#d8d8d8", gridwidth=2.5,
                griddash="dash", zeroline=False, showline=False, fixedrange=True, automargin=False),
    xaxis6=dict(domain=dom_x(1114, 1753.6), range=[-.6, .8115], anchor="y6", tickvals=[-.5, 0, .5], ticktext=["-0.5", "0.0", "0.5"],
                tickfont=dict(size=28, family=LATO), ticks="outside", ticklen=7, tickcolor="#444444", showgrid=False,
                zeroline=True, zerolinecolor="#222222", zerolinewidth=2.5, showline=False, fixedrange=True, automargin=False),
    yaxis6=dict(domain=dom_y(2469.5, 2967), range=[-.7815, .8166], anchor="x6", tickvals=[-.4, 0, .4, .8],
                ticktext=["-0.4", "0.0", "0.4", "0.8"], ticksuffix=NB + NB, tickfont=dict(size=28, family=LATO), ticks="outside",
                ticklen=7, tickcolor="#444444", showgrid=False, zeroline=True, zerolinecolor="#222222", zerolinewidth=2.5,
                showline=False, fixedrange=True, automargin=False),
    xaxis9=dict(domain=[0, 1], range=[0, W], anchor="y9", **hidden),
    yaxis9=dict(domain=[0, 1], range=[H, 0], anchor="x9", **hidden),
)
fig.write_html("out.html", post_script="document.body.style.margin='0';", config=dict(displayModeBar=False))
